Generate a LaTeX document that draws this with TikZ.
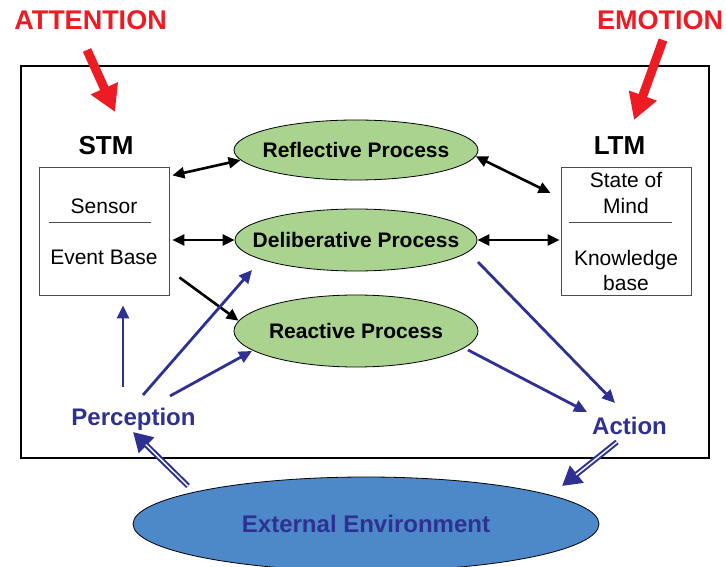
\documentclass[tikz,border=0pt]{standalone}
\usepackage{fontspec}
\setmainfont{Liberation Sans}
\usetikzlibrary{shapes.geometric,arrows.meta,calc}
\definecolor{procgreen}{HTML}{A9D38F}
\definecolor{envblue}{HTML}{4D88C8}
\definecolor{navyblue}{HTML}{2E3192}
\definecolor{alertred}{HTML}{ED1C24}
\begin{document}
\begin{tikzpicture}[x=1pt,y=-1pt,
  proc/.style={ellipse, draw=black, line width=0.8pt, fill=procgreen, minimum width=244pt, inner sep=0pt},
  proctext/.style={font=\fontsize{21}{24}\selectfont\bfseries, inner sep=0pt},
  memlabel/.style={font=\fontsize{26}{30}\selectfont\bfseries, inner sep=0pt, anchor=base},
  membox/.style={draw=black!70, line width=0.9pt, minimum width=130pt, minimum height=128pt, inner sep=0pt},
  memtext/.style={font=\fontsize{21}{24}\selectfont, inner sep=0pt, anchor=base},
  septext/.style={draw=black!70, line width=0.8pt},
  alert/.style={font=\fontsize{27}{30}\selectfont\bfseries, text=alertred, inner sep=0pt, anchor=base},
  alertarrow/.style={draw=alertred, line width=9pt, -{Triangle[length=26pt,width=28pt]}},
  blk/.style={draw=black, line width=2.6pt, {Triangle[length=12pt,width=11pt]}-{Triangle[length=12pt,width=11pt]}},
  blkone/.style={draw=black, line width=2.6pt, -{Triangle[length=12pt,width=11pt]}},
  bluearrow/.style={draw=navyblue, line width=2.8pt, -{Triangle[length=13pt,width=12pt]}},
  bluetext/.style={font=\fontsize{24}{28}\selectfont\bfseries, text=navyblue, inner sep=0pt, anchor=base},
  dblarrow/.style={draw=navyblue, line width=5.5pt, -{Triangle[length=19pt,width=21pt]}},
  dblinner/.style={draw=white, line width=1.4pt, shorten >=18pt}
]
\useasboundingbox (0,0) rectangle (726,567);

% outer frame
\node[draw=black, line width=2.2pt, minimum width=688pt, minimum height=392pt, inner sep=0pt] (frame) at (365,262) {};

% titles
\node[alert] (attn) at (90.5,30) {ATTENTION};
\node[alert] (emo) at (660,30) {EMOTION};
\node[memlabel] (stmlabel) at (106,155) {STM};
\node[memlabel] (ltmlabel) at (619.5,155) {LTM};

% memory boxes
\node[membox] (stm) at (104,231) {};
\node[membox] (ltm) at (626,231) {};
\node[memtext] (sensor) at (104,213) {Sensor};
\node[memtext] (eventbase) at (104,264) {Event Base};
\draw[septext] (49,222) -- (151,222);
\node[memtext] (stateof) at (626,188) {State of};
\node[memtext] (mind) at (626,213) {Mind};
\draw[septext] (569,222) -- (672,222);
\node[memtext] (knowledge) at (626,265) {Knowledge};
\node[memtext] (base) at (626,290) {base};

% processes
\node[proc, minimum height=60pt] (refl) at (356,150) {};
\node[proctext] (refltext) at (refl.center) {Reflective Process};
\node[proc, minimum height=62pt, minimum width=242pt] (delib) at (356,240) {};
\node[proctext] (delibtext) at (delib.center) {Deliberative Process};
\node[proc, minimum height=72pt] (react) at (356,331) {};
\node[proctext] (reacttext) at (react.center) {Reactive Process};

% perception / action / environment
\node[bluetext] (perc) at (133.5,425) {Perception};
\node[bluetext] (action) at (629.5,434) {Action};
\node[ellipse, draw=black, line width=0.8pt, fill=envblue, minimum width=466pt, minimum height=94pt, inner sep=0pt] (env) at (366,524) {};
\node[font=\fontsize{24}{28}\selectfont\bfseries, text=navyblue, inner sep=0pt] (envtext) at (env.center) {External Environment};

% red arrows
\draw[alertarrow] ($(attn.base)+(-3.5,20)$) -- ($(stmlabel.base)+(9,-43)$);
\draw[alertarrow] ($(emo.base)+(3,10)$) -- ($(ltmlabel.base)+(14.5,-35)$);

% black arrows
\draw[blk, shorten <=3pt] (stm.40) -- (refl.185);
\draw[blk, shorten <=3pt] (stm.east |- delib.west) -- (delib.west);
\draw[blkone] ($(stm.south east)+(10,-18)$) -- (react.175);
\draw[blk] (refl.-3) -- ($(ltm.west)+(-10,-38)$);
\draw[blk, shorten >=1pt] (delib.east) -- (ltm.west |- delib.east);

% blue arrows
\draw[bluearrow] ($(perc.base)+(-10.5,-38)$) -- ($(stm.south)+(19,10)$);
\draw[bluearrow] ($(perc.base)+(9.5,-30)$) -- ($(delib.center)+(-104,30)$);
\draw[bluearrow] ($(perc.base)+(36.5,-29)$) -- ($(react.center)+(-104,20)$);
\draw[bluearrow] ($(delib.center)+(122,22)$) -- ($(action.base)+(-14.5,-31)$);
\draw[bluearrow] ($(react.center)+(112,19)$) -- ($(action.base)+(-42.5,-22)$);

% double arrows
\draw[dblarrow] ($(env.center)+(-178,-38)$) -- ($(perc.base)+(-0.5,7)$);
\draw[dblinner] ($(env.center)+(-178,-38)$) -- ($(perc.base)+(-0.5,7)$);
\draw[dblarrow] ($(action.base)+(-12.5,8)$) -- ($(env.center)+(196,-38)$);
\draw[dblinner] ($(action.base)+(-12.5,8)$) -- ($(env.center)+(196,-38)$);
\end{tikzpicture}
\end{document}
